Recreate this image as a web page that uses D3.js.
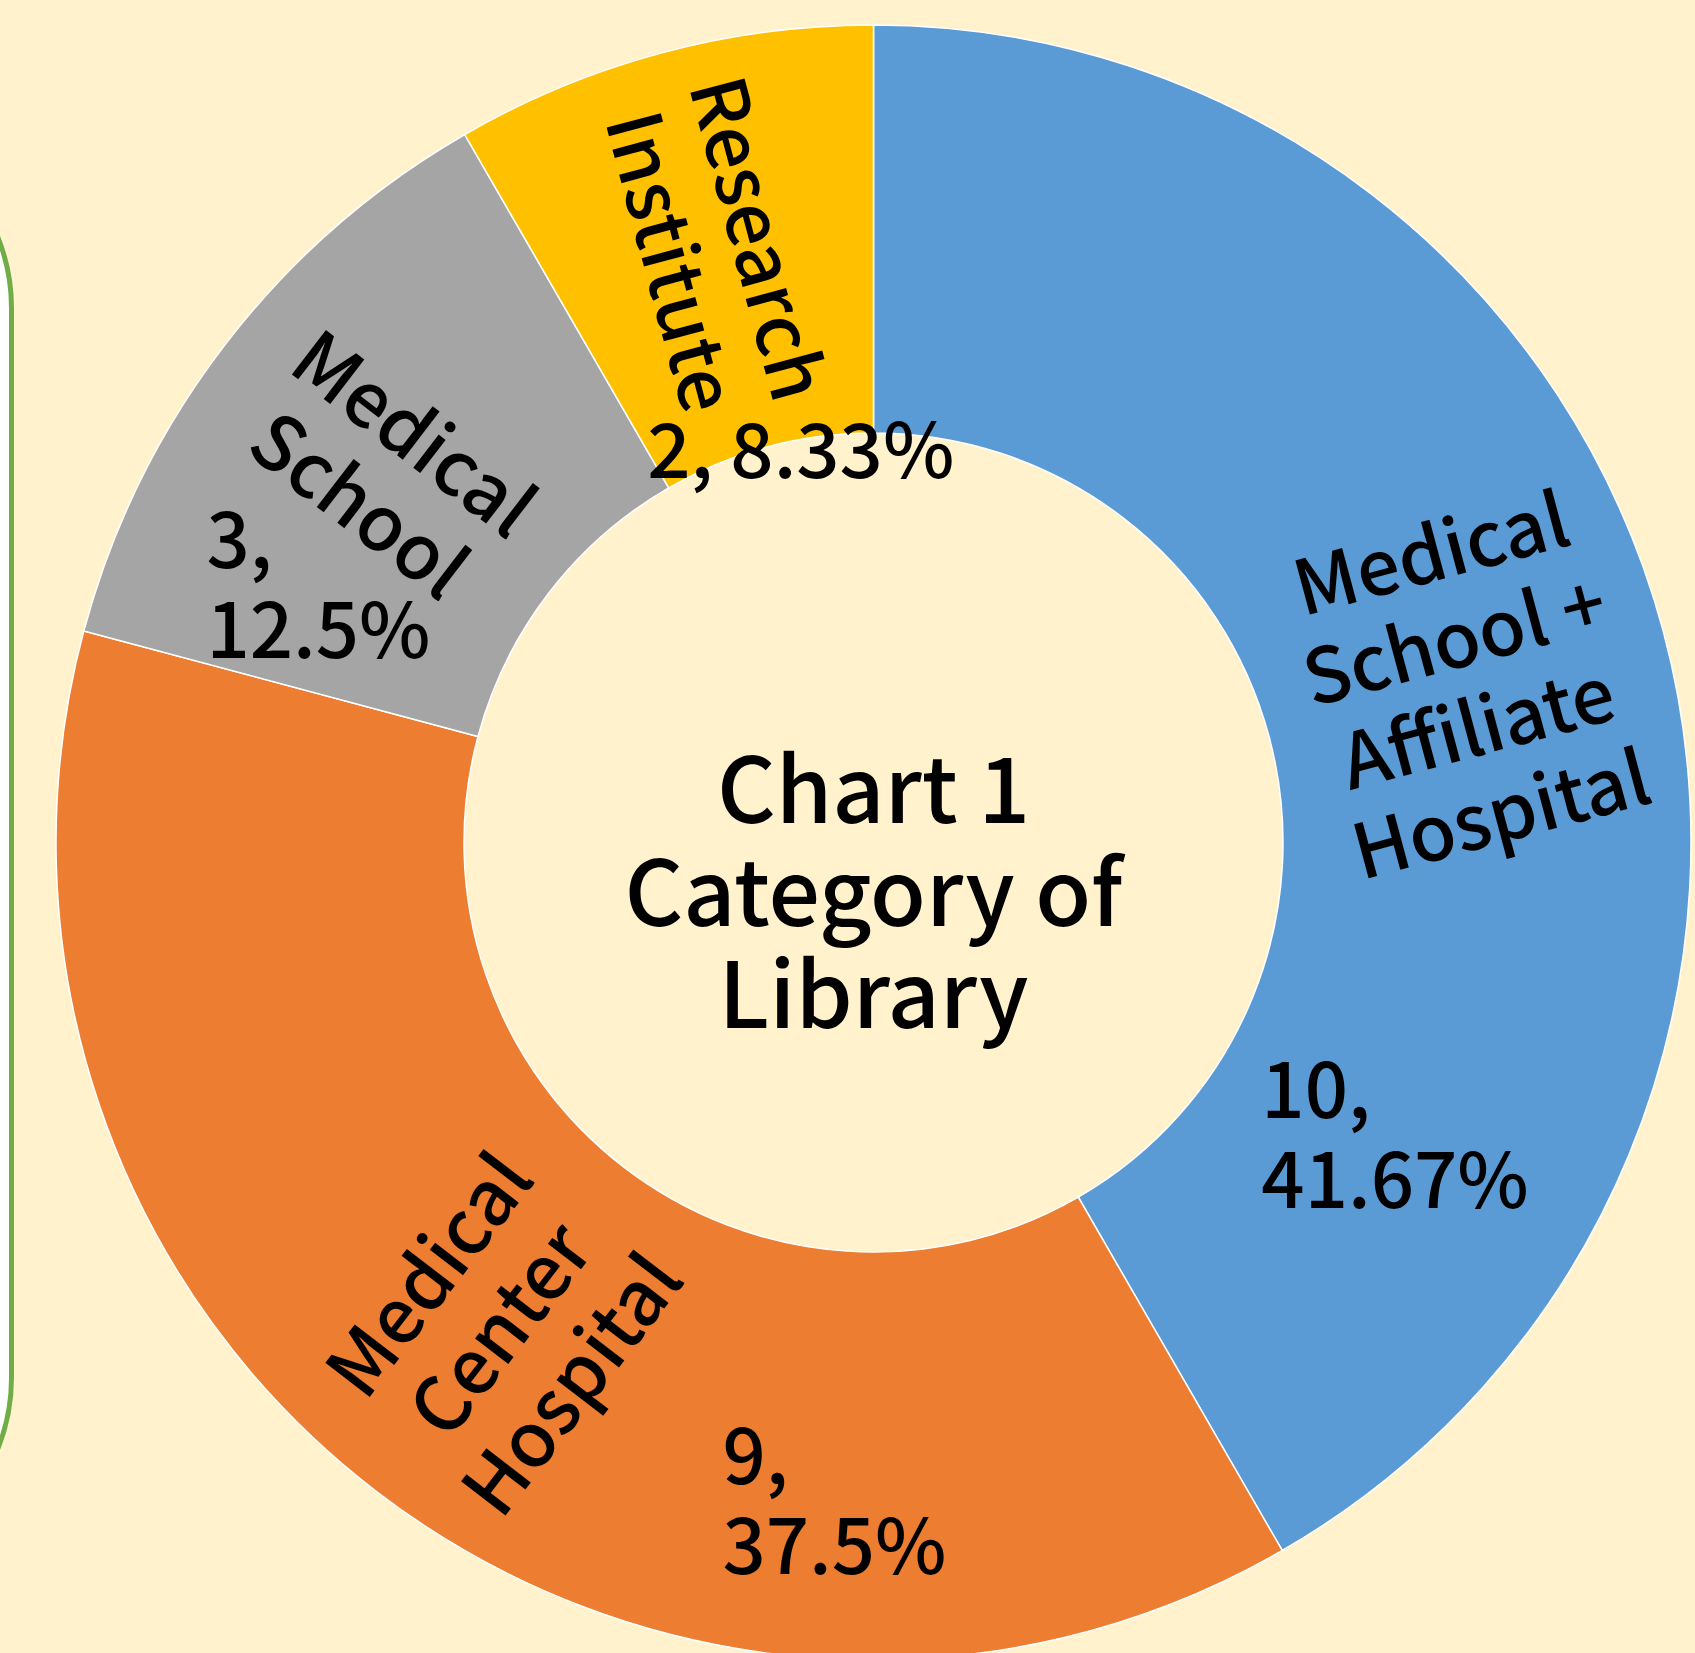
<!DOCTYPE html>
<html lang="en">
<head>
<meta charset="utf-8">
<title>Chart 1 Category of Library</title>
<script src="https://cdn.jsdelivr.net/npm/d3@7/dist/d3.min.js"></script>
<style>
  body { margin: 0; background: #FFF2CC; }
  svg text { font-family: "Noto Sans CJK TC", "Noto Sans", sans-serif; font-weight: 500; fill: #000; }
</style>
</head>
<body>
<script>
// data
var categories = ["Medical School + Affiliate Hospital", "Medical Center Hospital", "Medical School", "Research Institute"];
var categoryLines = [["Medical", "School +", "Affiliate", "Hospital"], ["Medical", "Center", "Hospital"], ["Medical", "School"], ["Research", "Institute"]];
var counts = [10, 9, 3, 2];
var colors = ["#5B9BD5", "#ED7D31", "#A5A5A5", "#FFC000"];
var titleLines = ["Chart 1", "Category of", "Library"];

// where the value labels sit (angle clockwise from top in degrees, distance from centre)
var valueAngle = [119.3, 183.4, 294.9, 349.5];
var valueRadius = [598, 660, 612, 399];
var valueWrap = [true, true, true, false];

var w = 1695, h = 1653;
var cx = 873.5, cy = 842.5, rOut = 817.5, rIn = 409.5;
var fs = 76, lh = 90, cap = 0.73 * fs;

var svg = d3.select("body").append("svg")
    .attr("width", w)
    .attr("height", h);

svg.append("rect").attr("width", w).attr("height", h).attr("fill", "#FFF2CC");

// the rounded box peeking in at the left edge
svg.append("rect")
    .attr("x", -500).attr("y", 118)
    .attr("width", 511.5).attr("height", 1450)
    .attr("rx", 190).attr("ry", 190)
    .attr("fill", "#fff")
    .attr("stroke", "#70AD47")
    .attr("stroke-width", 5);

var total = d3.sum(counts);
var pie = d3.pie().sort(null).value(function(d) { return d; });
var arcs = pie(counts);
var arc = d3.arc().innerRadius(rIn).outerRadius(rOut);

var g = svg.append("g").attr("transform", "translate(" + cx + "," + cy + ")");

g.selectAll("path")
    .data(arcs)
    .enter()
    .append("path")
    .attr("d", arc)
    .attr("fill", function(d, i) { return colors[i]; })
    .attr("stroke", "#fff")
    .attr("stroke-width", 1.5);

// category names, rotated along the radius
g.selectAll("text.cat")
    .data(arcs)
    .enter()
    .append("text")
    .attr("class", "cat")
    .attr("font-size", fs)
    .attr("text-anchor", "middle")
    .attr("transform", function(d) {
        var c = arc.centroid(d);
        var mid = (d.startAngle + d.endAngle) / 2 * 180 / Math.PI;
        var rot = mid - 90;
        if (rot > 90) rot -= 180;
        if (rot < -90) rot += 180;
        return "translate(" + c[0] + "," + c[1] + ") rotate(" + rot + ")";
    })
    .each(function(d, i) {
        var lines = categoryLines[i];
        var t = d3.select(this);
        lines.forEach(function(s, k) {
            t.append("tspan")
                .attr("x", 0)
                .attr("y", -(lines.length - 1) / 2 * lh + cap / 2 + k * lh)
                .text(s);
        });
    });

// value + percent, horizontal
function pct(v) { return +(v / total * 100).toFixed(2) + "%"; }

g.selectAll("text.val")
    .data(counts)
    .enter()
    .append("text")
    .attr("class", "val")
    .attr("font-size", fs)
    .each(function(v, i) {
        var lines = valueWrap[i] ? [v + ",", pct(v)] : [v + ", " + pct(v)];
        var t = d3.select(this);
        var spans = lines.map(function(s) { return t.append("tspan").text(s); });
        var maxW = d3.max(spans, function(s) { return s.node().getComputedTextLength(); });
        var a = valueAngle[i] * Math.PI / 180;
        var px = Math.sin(a) * valueRadius[i], py = -Math.cos(a) * valueRadius[i];
        var blockH = (lines.length - 1) * lh + cap;
        spans.forEach(function(s, k) {
            s.attr("x", px - maxW / 2).attr("y", py - blockH / 2 + cap + k * lh);
        });
    });

// title in the hole
svg.append("text")
    .attr("font-size", 91)
    .attr("text-anchor", "middle")
    .selectAll("tspan")
    .data(titleLines)
    .enter()
    .append("tspan")
    .attr("x", cx)
    .attr("y", function(d, i) { return cy - 19.5 + i * 102.5; })
    .text(function(d) { return d; });
</script>
</body>
</html>
